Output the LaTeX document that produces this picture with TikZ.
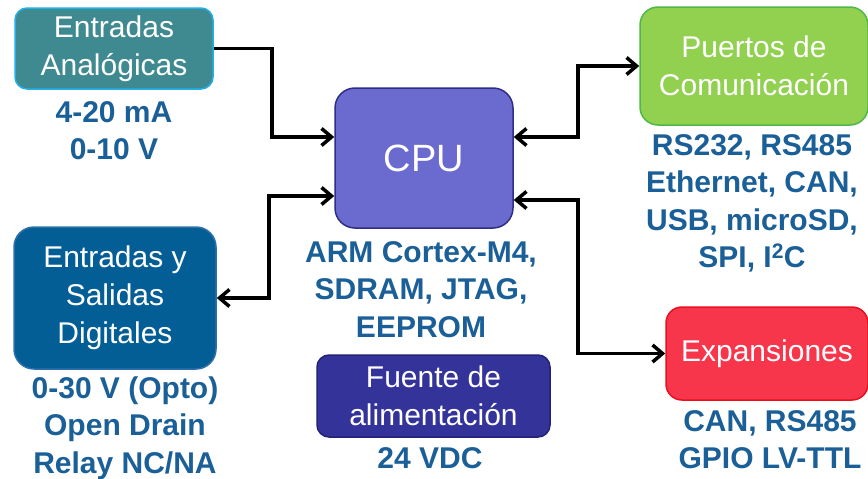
\documentclass[tikz,border=0pt]{standalone}
\usepackage{fontspec}
\setmainfont{Liberation Sans}
\usetikzlibrary{arrows.meta}
\definecolor{labblue}{HTML}{1A5F97}
\definecolor{anafill}{HTML}{3E8A90}
\definecolor{analine}{HTML}{22B0E8}
\definecolor{digfill}{HTML}{045E96}
\definecolor{digline}{HTML}{2C70AC}
\definecolor{cpufill}{HTML}{6B6BCF}
\definecolor{cpuline}{HTML}{2E2E85}
\definecolor{ftefill}{HTML}{333399}
\definecolor{fteline}{HTML}{222277}
\definecolor{ptofill}{HTML}{92D050}
\definecolor{ptoline}{HTML}{4FB848}
\definecolor{expfill}{HTML}{F8364B}
\definecolor{expline}{HTML}{E8101E}

\begin{document}
\begin{tikzpicture}[x=1pt,y=-1pt,
  blk/.style={draw,line width=1.5pt,rounded corners=12pt,text=white,align=center,
    inner sep=0pt,font=\fontsize{30}{38}\selectfont},
  lab/.style={text=labblue,align=center,inner sep=0pt,
    font=\bfseries\fontsize{30}{37.5}\selectfont},
  arr/.style={line width=3.5pt,-{Straight Barb[length=10pt,width=17pt]}},
  arr2/.style={line width=3.5pt,{Straight Barb[length=10pt,width=17pt]}-{Straight Barb[length=10pt,width=17pt]}}]
\useasboundingbox (0,0) rectangle (868,479);
\node [blk,fill=anafill,draw=analine,minimum width=198pt,minimum height=81pt] (ana) at (114,48.5) {Entradas\\Analógicas};
\node [blk,fill=digfill,draw=digline,minimum width=202pt,minimum height=142pt,rounded corners=20pt] (dig) at (115,298) {Entradas y\\Salidas\\Digitales};
\node [blk,fill=cpufill,draw=cpuline,minimum width=178pt,minimum height=140pt,rounded corners=20pt,font=\fontsize{38}{44}\selectfont] (cpu) at (424,158) {CPU};
\node [blk,fill=ftefill,draw=fteline,minimum width=233pt,minimum height=82pt] (fte) at (433.5,396) {Fuente de\\alimentación};
\node [blk,fill=ptofill,draw=ptoline,minimum width=228pt,minimum height=118pt,rounded corners=18pt] (pto) at (754,66) {Puertos de\\Comunicación};
\node [blk,fill=expfill,draw=expline,minimum width=202pt,minimum height=93pt,rounded corners=16pt] (exp) at (767,353.5) {Expansiones};
\node [lab] (analab) at (114,130.5) {4-20 mA\\0-10 V};
\node [lab] (diglab) at (125,428) {0-30 V (Opto)\\Open Drain\\Relay NC/NA};
\node [lab] (cpulab) at (421,289.5) {ARM Cortex-M4,\\SDRAM, JTAG,\\EEPROM};
\node [lab] (ftelab) at (430,458) {24 VDC};
\node [lab] (ptolab) at (752,203.5) {RS232, RS485\\Ethernet, CAN,\\USB, microSD,\\SPI, I\textsuperscript{2}C};
\node [lab] (explab) at (770,439.5) {CAN, RS485\\GPIO LV-TTL};
\draw[arr] (ana.east) -- ++(58,0) |- ([yshift=21pt]cpu.west);
\draw[arr2] (dig.east) -- ++(52,0) |- ([yshift=-38pt]cpu.west);
\draw[arr2] ([yshift=21pt]cpu.east) -- ++(64,0) |- (pto.west);
\draw[arr2] ([yshift=-42pt]cpu.east) -- ++(64,0) |- (exp.west);
\end{tikzpicture}
\end{document}
